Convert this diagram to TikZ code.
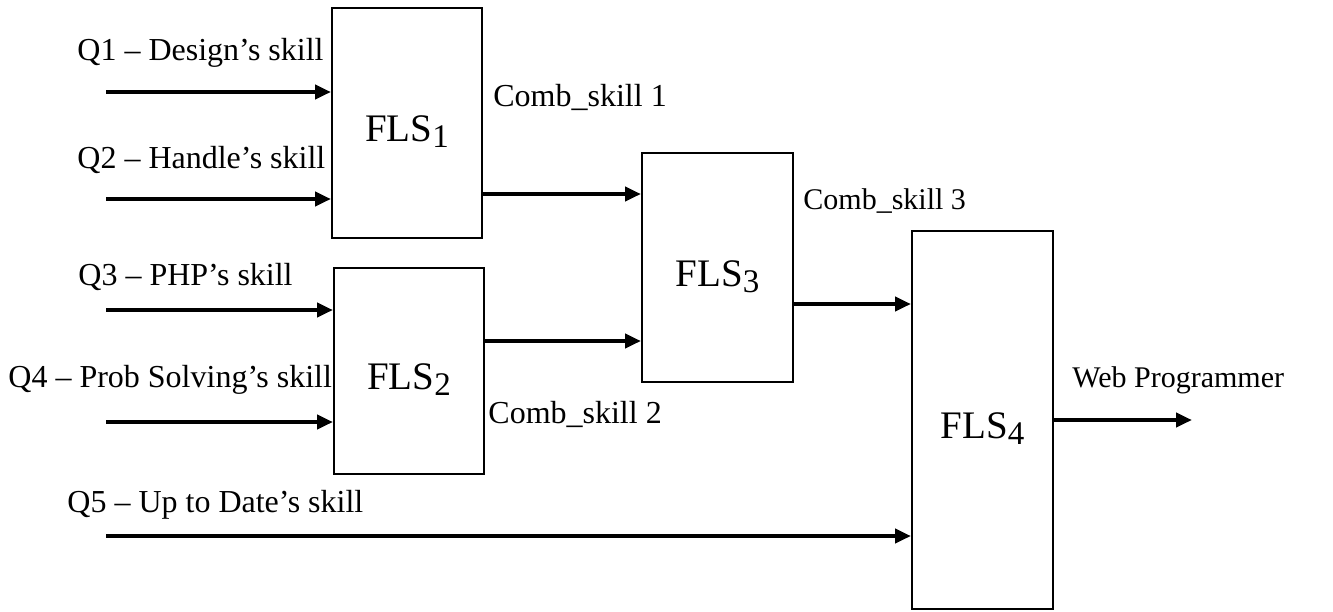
\documentclass[tikz,border=0pt]{standalone}
\usepackage{fontspec}
\setmainfont{Liberation Serif}
\usetikzlibrary{arrows.meta}
\newcommand{\flsname}[1]{\fontsize{19.5}{22}\selectfont FLS\raisebox{-3pt}{\fontsize{16.5}{18}\selectfont #1}}
\begin{document}
\begin{tikzpicture}[x=0.5pt,y=-0.5pt,
  flsbox/.style={draw,line width=1pt,rectangle,inner sep=0pt,align=center,text height=18.5pt,text depth=0pt},
  lbl/.style={inner sep=0pt,anchor=base west,font=\fontsize{16}{18}\selectfont},
  lbls/.style={inner sep=0pt,anchor=base west,font=\fontsize{15}{18}\selectfont},
  conn/.style={line width=2pt,-{Triangle[length=8pt,width=7pt]}}]
\useasboundingbox (0,0) rectangle (1333,611);
% boxes
\node[flsbox,minimum width=75pt,minimum height=115pt] (fls1) at (407,123) {\flsname{1}};
\node[flsbox,minimum width=75pt,minimum height=103pt] (fls2) at (409,371) {\flsname{2}};
\node[flsbox,minimum width=75.5pt,minimum height=114.5pt] (fls3) at (717.5,267.5) {\flsname{3}};
\node[flsbox,minimum width=70.5pt,minimum height=189pt] (fls4) at (982.5,420) {\flsname{4}};
% free ends
\coordinate (q1) at (106,92);
\coordinate (q2) at (106,199);
\coordinate (q3) at (106,310);
\coordinate (q4) at (106,422);
\coordinate (q5) at (106,536);
\coordinate (out) at (1192,420);
% labels
\node[lbl] (l1) at (77,60) {Q1 -- Design’s skill};
\node[lbl] (l2) at (77,168) {Q2 -- Handle’s skill};
\node[lbl] (l3) at (78,285) {Q3 -- PHP’s skill};
\node[lbl] (l4) at (8,387) {Q4 -- Prob Solving’s skill};
\node[lbl] (l5) at (67,512) {Q5 -- Up to Date’s skill};
\node[lbl] (c1) at (493,106) {Comb\_skill 1};
\node[lbl] (c2) at (488,423) {Comb\_skill 2};
\node[lbls] (c3) at (803,209) {Comb\_skill 3};
\node[lbls] (wp) at (1072,387) {Web Programmer};
% connectors
\draw[conn] (q1) -- (q1 -| fls1.west);
\draw[conn] (q2) -- (q2 -| fls1.west);
\draw[conn] (q3) -- (q3 -| fls2.west);
\draw[conn] (q4) -- (q4 -| fls2.west);
\draw[conn] (q5) -- (q5 -| fls4.west);
\coordinate (a13) at (0,194);
\coordinate (a23) at (0,341);
\coordinate (a34) at (0,304);
\draw[conn] (a13 -| fls1.east) -- (a13 -| fls3.west);
\draw[conn] (a23 -| fls2.east) -- (a23 -| fls3.west);
\draw[conn] (a34 -| fls3.east) -- (a34 -| fls4.west);
\draw[conn] (out -| fls4.east) -- (out);
\end{tikzpicture}
\end{document}
